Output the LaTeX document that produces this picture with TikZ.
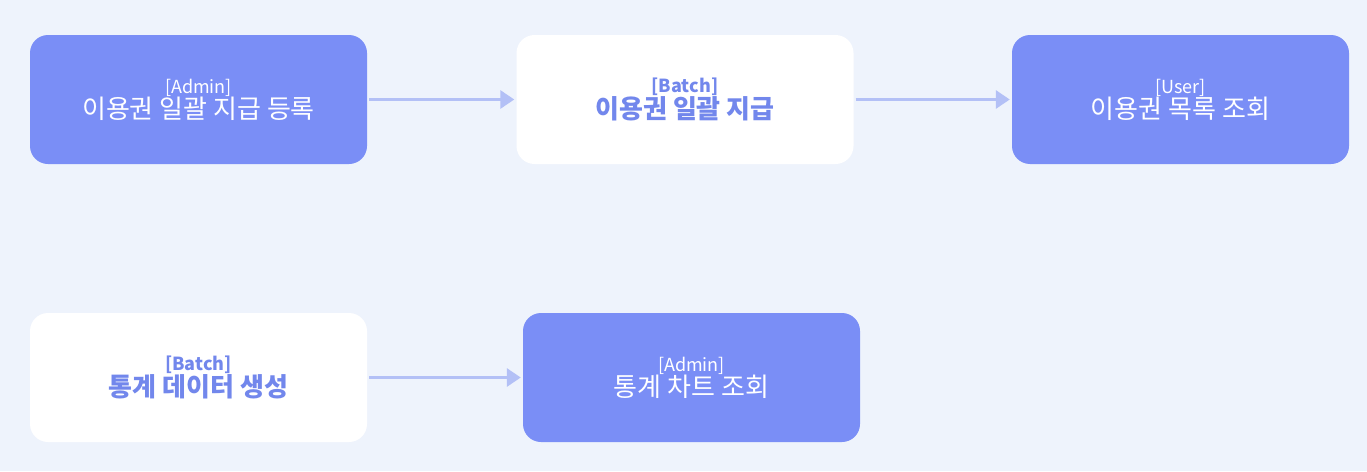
\documentclass[tikz,border=0pt]{standalone}
\usepackage{fontspec}
\setmainfont{Noto Sans CJK KR}
\usetikzlibrary{arrows.meta}
\definecolor{bg}{HTML}{EEF3FC}
\definecolor{boxblue}{HTML}{7A8EF6}
\definecolor{txtblue}{HTML}{7287EC}
\definecolor{arrowc}{HTML}{B3C0F6}
\tikzset{
  base/.style={rounded corners=18pt, minimum width=337pt, minimum height=129pt, inner sep=0pt, align=center, font=\fontsize{26}{25}\selectfont},
  bluebox/.style={base, fill=boxblue, text=white},
  whitebox/.style={base, fill=white, text=txtblue},
  flow/.style={draw=arrowc, line width=3pt, -{Triangle[length=14pt,width=18pt]}, shorten >=2pt, shorten <=2pt},
}
\newcommand{\tagreg}[1]{{\fontsize{18}{20}\selectfont #1}}
\newcommand{\tagbold}[1]{{\fontsize{18}{20}\selectfont\bfseries #1}}
\begin{document}
\begin{tikzpicture}[x=1pt,y=-1pt]
\fill[bg] (0,0) rectangle (1367,471);
\useasboundingbox (0,0) rectangle (1367,471);
\node[bluebox] (a) at (198.5,99.5) {\tagreg{[Admin]}\\이용권 일괄 지급 등록};
\node[whitebox] (b) at (685,99.5) {\tagbold{[Batch]}\\\bfseries 이용권 일괄 지급};
\node[bluebox] (c) at (1180.5,99.5) {\tagreg{[User]}\\이용권 목록 조회};
\node[whitebox] (d) at (198.5,377.5) {\tagbold{[Batch]}\\\bfseries 통계 데이터 생성};
\node[bluebox] (e) at (691.5,377.5) {\tagreg{[Admin]}\\통계 차트 조회};
\draw[flow] (a.east) -- (b.west);
\draw[flow] (b.east) -- (c.west);
\draw[flow] (d.east) -- (e.west);
\end{tikzpicture}
\end{document}
